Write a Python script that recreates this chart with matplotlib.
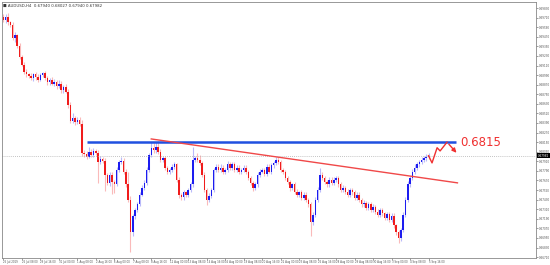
import numpy as np
import pandas as pd
import matplotlib
matplotlib.use("Agg")
import matplotlib.pyplot as plt
import matplotlib.transforms as mtransforms

# AUDUSD H4 closes (one per bar, open = previous close)
first_open = 0.6972
closes = [
    0.6968, 0.6972, 0.6965, 0.6962, 0.6945, 0.6949, 0.6936, 0.6922, 0.6912, 0.6903,
    0.6900, 0.6898, 0.6895, 0.6900, 0.6896, 0.6893, 0.6899, 0.6901, 0.6895, 0.6890,
    0.6893, 0.6888, 0.6890, 0.6885, 0.6888, 0.6880, 0.6884, 0.6878, 0.6862, 0.6842,
    0.6845, 0.6840, 0.6843, 0.6838, 0.6802, 0.6800, 0.6797, 0.6803, 0.6799, 0.6804,
    0.6802, 0.6790, 0.6794, 0.6792, 0.6774, 0.6764, 0.6774, 0.6765, 0.6763, 0.6780,
    0.6790, 0.6792, 0.6778, 0.6762, 0.6743, 0.6702, 0.6722, 0.6730, 0.6738, 0.6749,
    0.6758, 0.6764, 0.6780, 0.6799, 0.6808, 0.6805, 0.6809, 0.6803, 0.6793, 0.6795,
    0.6783, 0.6778, 0.6780, 0.6784, 0.6787, 0.6768, 0.6749, 0.6746, 0.6752, 0.6749,
    0.6755, 0.6762, 0.6793, 0.6795, 0.6793, 0.6789, 0.6774, 0.6755, 0.6743, 0.6748,
    0.6755, 0.6780, 0.6784, 0.6780, 0.6783, 0.6778, 0.6780, 0.6787, 0.6783, 0.6787,
    0.6780, 0.6783, 0.6778, 0.6780, 0.6783, 0.6778, 0.6770, 0.6764, 0.6758, 0.6762,
    0.6774, 0.6778, 0.6780, 0.6775, 0.6784, 0.6778, 0.6786, 0.6789, 0.6793, 0.6790,
    0.6780, 0.6778, 0.6770, 0.6765, 0.6758, 0.6762, 0.6753, 0.6749, 0.6752, 0.6745,
    0.6749, 0.6743, 0.6737, 0.6715, 0.6724, 0.6743, 0.6755, 0.6774, 0.6770, 0.6765,
    0.6762, 0.6768, 0.6764, 0.6768, 0.6770, 0.6762, 0.6755, 0.6758, 0.6753, 0.6749,
    0.6755, 0.6752, 0.6745, 0.6749, 0.6743, 0.6737, 0.6739, 0.6733, 0.6737, 0.6730,
    0.6734, 0.6728, 0.6724, 0.6730, 0.6726, 0.6720, 0.6725, 0.6718, 0.6723, 0.6711,
    0.6702, 0.6695, 0.6705, 0.6724, 0.6743, 0.6762, 0.6770, 0.6778, 0.6783, 0.6787,
    0.6790, 0.6793, 0.6795, 0.6797, 0.6798]

# wick lengths above / below the body, in pips
wick_up = [
    4, 3, 5, 2, 3, 4, 2, 3, 2, 3,
    3, 2, 3, 2, 3, 4, 2, 2, 3, 3,
    2, 3, 4, 3, 5, 3, 2, 4, 3, 3,
    6, 3, 4, 3, 5, 3, 4, 6, 3, 4,
    3, 3, 4, 3, 3, 2, 4, 3, 3, 4,
    3, 4, 3, 3, 15, 4, 3, 3, 2, 3,
    3, 3, 4, 3, 7, 6, 6, 8, 4, 3,
    3, 2, 3, 3, 3, 2, 3, 2, 3, 2,
    3, 3, 16, 3, 6, 6, 3, 3, 2, 3,
    3, 3, 4, 3, 4, 3, 3, 4, 3, 3,
    3, 3, 3, 2, 3, 3, 2, 3, 2, 3,
    3, 3, 3, 2, 3, 3, 3, 3, 4, 3,
    3, 3, 2, 3, 3, 2, 3, 3, 2, 3,
    3, 3, 2, 3, 3, 3, 4, 9, 3, 3,
    3, 3, 3, 3, 3, 2, 3, 3, 2, 3,
    3, 2, 3, 3, 3, 2, 3, 2, 3, 3,
    3, 2, 3, 3, 3, 2, 3, 2, 3, 3,
    2, 3, 3, 4, 3, 4, 3, 3, 4, 3,
    3, 4, 3, 3, 4]
wick_dn = [
    3, 4, 3, 3, 2, 4, 3, 3, 2, 3,
    3, 3, 2, 3, 3, 3, 2, 3, 2, 3,
    3, 2, 3, 3, 2, 3, 3, 2, 4, 3,
    3, 3, 2, 3, 4, 3, 3, 2, 3, 3,
    3, 26, 3, 3, 20, 3, 4, 15, 12, 3,
    3, 2, 3, 3, 3, 24, 4, 3, 3, 3,
    2, 3, 3, 3, 3, 3, 3, 3, 3, 3,
    3, 3, 3, 2, 3, 3, 4, 3, 3, 3,
    3, 3, 3, 3, 3, 3, 3, 3, 7, 3,
    3, 3, 3, 3, 2, 3, 3, 3, 3, 3,
    3, 3, 3, 3, 2, 3, 3, 3, 4, 3,
    3, 3, 2, 3, 3, 2, 3, 3, 3, 3,
    3, 3, 3, 3, 4, 3, 3, 3, 3, 3,
    3, 3, 3, 17, 4, 3, 3, 3, 3, 3,
    3, 3, 3, 3, 3, 3, 3, 3, 3, 3,
    3, 3, 3, 3, 3, 3, 3, 3, 3, 3,
    3, 3, 3, 3, 3, 3, 3, 3, 3, 3,
    3, 6, 4, 3, 3, 3, 3, 3, 3, 3,
    3, 3, 3, 3, 3]

header = "AUDUSD,H4  0.67940 0.68027 0.67940 0.67982"
last_price = "0.67982"
level = 0.6815
level_span = (36, 196)                     # bar index range of the blue line
trend_x = [64, 196.5]
trend_y = [0.6819, 0.6764]
path_x = [184, 185.5, 187.7, 189, 192, 196.9]
path_y = [0.6798, 0.6789, 0.6808, 0.6804, 0.6815, 0.6799]
level_label = "0.6815"

# H4 bar times from 25 Jul 2019, weekdays only
days = pd.bdate_range("2019-07-25", periods=32)
times = [d + pd.Timedelta(hours=4 * k) for d in days for k in range(6)][:len(closes)]

closes = np.array(closes)
opens = np.concatenate([[first_open], closes[:-1]])
highs = np.maximum(opens, closes) + np.array(wick_up) * 1e-4
lows = np.minimum(opens, closes) - np.array(wick_dn) * 1e-4
idx = np.arange(len(closes))
bull = closes >= opens

fig = plt.figure(figsize=(5.5, 2.65), dpi=100)
ax = fig.add_axes([0.004, 0.028, 0.971, 0.964])

blue, red = "#1c1cf0", "#f01c1c"
for m, col in [(bull, blue), (~bull, red)]:
    ax.vlines(idx[m], lows[m], highs[m], color=col, alpha=0.3, lw=0.8)
    h = np.maximum(np.abs(closes[m] - opens[m]), 0.00006)
    ax.bar(idx[m], h, bottom=np.minimum(opens[m], closes[m]), width=0.65,
           color=col, lw=0)

# current price line
ax.axhline(closes[-1], color="#b0b0b0", lw=0.6, ls=(0, (1, 1.5)))

# drawn objects
ax.hlines(level, *level_span, color="#2050e0", lw=1.8)
ax.plot(trend_x, trend_y, color="#f04848", lw=1.0)
ax.plot(path_x[:-1], path_y[:-1], color="#f03030", lw=1.0)
ax.annotate("", xy=(path_x[-1], path_y[-1]), xytext=(path_x[-2], path_y[-2]),
            arrowprops=dict(arrowstyle="-|>,head_length=0.25,head_width=0.12",
                            color="#f03030", lw=1.0))
ax.text(path_x[-1] + 1, level, level_label, color="#f03030", fontsize=8.5,
        va="center", ha="left")

ax.set_xlim(-0.5, 230.6)
ax.set_ylim(0.66704, 0.69904)

# price axis on the right
yt = level + np.arange(-12, 15) * 0.0012
ax.yaxis.tick_right()
ax.set_yticks(yt)
ax.set_yticklabels([f"{v:.5f}" for v in yt], fontsize=2.0, color="#555555")
ax.tick_params(axis="y", length=1.5, width=0.4, pad=0.6, colors="#555555")

# time axis
xt = idx[::8]
xl = []
for i in xt:
    t = times[i]
    xl.append(f"{t.day} {t:%b} {t.year}" if i == 0 else f"{t.day} {t:%b} {t:%H:%M}")
ax.set_xticks(xt)
ax.set_xticklabels(xl, fontsize=1.9, color="#555555", ha="left")
ax.tick_params(axis="x", length=1.5, width=0.4, pad=0.6, colors="#555555")

for s in ax.spines.values():
    s.set_color("#888888")
    s.set_linewidth(0.6)

# current price box
tr = mtransforms.blended_transform_factory(ax.transAxes, ax.transData)
ax.text(1.003, closes[-1], last_price, transform=tr, fontsize=2.0, color="white",
        va="center", ha="left",
        bbox=dict(boxstyle="square,pad=0.2", fc="black", ec="none"))

ax.text(0.002, 0.992, "\u25a0 " + header, transform=ax.transAxes, fontsize=2.8,
        color="#333333", va="top", ha="left")

fig.savefig("out.png", dpi=100)
